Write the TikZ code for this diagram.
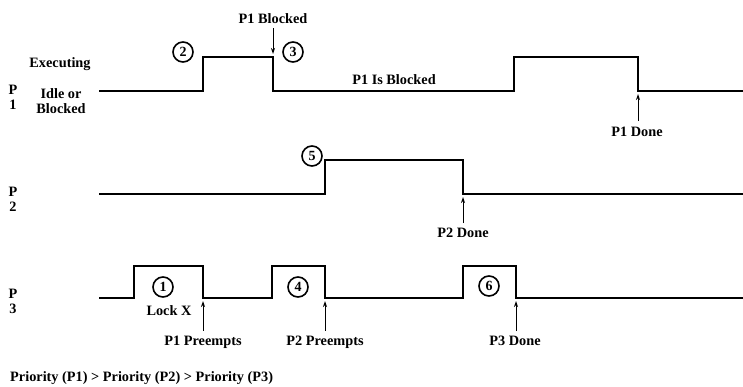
\documentclass[tikz,border=0pt]{standalone}
\usepackage{fontspec}
\setmainfont{Liberation Serif}
\usetikzlibrary{arrows.meta}
\begin{document}
\begin{tikzpicture}[x=1pt,y=-1pt,
  wave/.style={line width=2.4pt,line join=miter},
  lbl/.style={font=\fontsize{14.3}{15}\selectfont\bfseries,inner sep=0pt},
  num/.style={circle,draw,line width=1.6pt,minimum size=20pt,inner sep=0pt,font=\fontsize{14}{14}\selectfont\bfseries},
  ptr/.style={line width=1pt,-{Stealth[length=6pt,width=4pt]}}]
\useasboundingbox (0,0) rectangle (743,386);
% waveforms
\draw[wave] (99,91) -- (203,91) -- (203,57) -- (273,57) -- (273,91) -- (514,91) -- (514,57) -- (638,57) -- (638,91) -- (743,91);
\draw[wave] (99,194) -- (325,194) -- (325,160) -- (463,160) -- (463,194) -- (743,194);
\draw[wave] (99,298) -- (134,298) -- (134,266) -- (203,266) -- (203,298) -- (272,298) -- (272,266) -- (325,266) -- (325,298) -- (463,298) -- (463,266) -- (516,266) -- (516,298) -- (743,298);
% row labels
\node[lbl,align=center] (p1) at (13,97) {P\\[0pt]1};
\node[lbl,align=center] (p2) at (13,199) {P\\[0pt]2};
\node[lbl,align=center] (p3) at (13,301) {P\\[0pt]3};
\node[lbl] (exec) at (60,64) {Executing};
\node[lbl,align=center] (idle) at (61,101) {Idle or\\Blocked};
% circled numbers
\node[num] (c2) at (183,52) {2};
\node[num] (c3) at (293,52) {3};
\node[num] (c5) at (312,156) {5};
\node[num] (c1) at (163,287) {1};
\node[num] (c4) at (298,287) {4};
\node[num] (c6) at (489,286) {6};
% event points
\coordinate (t1) at (273,54);
\coordinate (t2) at (638,94);
\coordinate (t3) at (463,197);
\coordinate (t4) at (203,301);
\coordinate (t5) at (325,301);
\coordinate (t6) at (516,301);
% event labels
\node[lbl] (pb) at (273,19) {P1 Blocked};
\node[lbl] (pib) at (394,80) {P1 Is Blocked};
\node[lbl] (pd1) at (637,132) {P1 Done};
\node[lbl] (pd2) at (463,233) {P2 Done};
\node[lbl] (lock) at (169,311) {Lock X};
\node[lbl] (pp1) at (203,342) {P1 Preempts};
\node[lbl] (pp2) at (325,342) {P2 Preempts};
\node[lbl] (pd3) at (515,341) {P3 Done};
\draw[ptr,shorten <=4pt] (pb.south -| t1) -- (t1);
\draw[ptr,shorten <=6pt] (pd1.north -| t2) -- (t2);
\draw[ptr,shorten <=5pt] (pd2.north -| t3) -- (t3);
\draw[ptr,shorten <=5pt] (pp1.north -| t4) -- (t4);
\draw[ptr,shorten <=5pt] (pp2.north -| t5) -- (t5);
\draw[ptr,shorten <=5pt] (pd3.north -| t6) -- (t6);
\node[lbl,anchor=west] (prio) at (10,378) {Priority (P1) > Priority (P2) > Priority (P3)};
\end{tikzpicture}
\end{document}
